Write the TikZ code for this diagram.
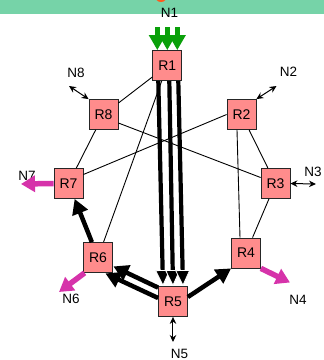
\documentclass[tikz,border=0pt]{standalone}
\usepackage{fontspec}
\setmainfont{Liberation Sans}
\usetikzlibrary{arrows.meta,calc}
\definecolor{band}{HTML}{76D3A8}
\definecolor{boxpink}{HTML}{FF8C8C}
\definecolor{flowgreen}{HTML}{0AA00A}
\definecolor{flowmag}{HTML}{D633AA}
\definecolor{dotorange}{HTML}{FF5A1E}
\begin{document}
\begin{tikzpicture}[x=1pt,y=-1pt,
  rbox/.style={draw=black!85, fill=boxpink, minimum width=29pt, minimum height=30pt,
    inner sep=0pt, line width=0.8pt, font=\fontsize{14}{16}\selectfont},
  lbl/.style={inner sep=0pt, font=\fontsize{13.5}{15}\selectfont},
  thinline/.style={line width=0.9pt},
  thinboth/.style={line width=1pt, {Stealth[length=7pt,width=6.5pt]}-{Stealth[length=7pt,width=6.5pt]}},
  thickarrow/.style={line width=4.5pt, -{Triangle[width=16pt,length=15pt]}},
  triarrow/.style={line width=4.2pt, -{Triangle[width=15pt,length=16pt,fill=black,color=white,line width=0.8pt]}},
  greenarrow/.style={flowgreen, line width=5pt, -{Triangle[width=16pt,length=15pt]}},
  magarrow/.style={flowmag, line width=5.5pt, -{Triangle[width=16pt,length=14pt]}}]
\useasboundingbox (0,0) rectangle (324,360);
% top band
\fill[band] (0,0) rectangle (324,13.5);
\begin{scope}
  \clip (0,0) rectangle (324,13.5);
  \fill[dotorange] (161,-4) circle[radius=6pt];
\end{scope}
% routers
\node[rbox] (R1) at (167.3,65.5) {R1};
\node[rbox] (R2) at (241.5,114.5) {R2};
\node[rbox] (R3) at (275.5,183.5) {R3};
\node[rbox] (R4) at (246,253) {R4};
\node[rbox] (R5) at (173,301.5) {R5};
\node[rbox] (R6) at (98,257.5) {R6};
\node[rbox] (R7) at (68.5,183.5) {R7};
\node[rbox] (R8) at (103.5,114.5) {R8};
% labels
\node[lbl] (N1) at (169.5,13) {N1};
\node[lbl] (N2) at (288.5,72) {N2};
\node[lbl] (N3) at (313,172) {N3};
\node[lbl] (N4) at (298,300) {N4};
\node[lbl] (N5) at (179.5,354) {N5};
\node[lbl] (N6) at (71,299) {N6};
\node[lbl] (N7) at (27,176) {N7};
\node[lbl] (N8) at (76,73) {N8};
% free ends
\coordinate (e8) at (69,86);
\coordinate (e2) at (276.5,86);
\coordinate (e3) at (316,184);
\coordinate (e5) at (173,342);
\coordinate (m7) at (21,184);
\coordinate (m6) at (59,292);
\coordinate (m4) at (290,282.5);
% thin links
\draw[thinline] (R1) -- (R8);
\draw[thinline] (R1) -- (R6);
\draw[thinline] (R8) -- (R7);
\draw[thinline] ($(R8.east)+(0,8.5)$) -- ($(R3.west)+(0,-6)$);
\draw[thinline] ($(R7.east)+(0,-9)$) -- (R2.west);
\draw[thinline] (R2) -- (R3);
\draw[thinline] ($(R2.south)+(-4.5,0)$) -- ($(R4.north)+(-6,0)$);
\draw[thinline] (R3) -- (R4);
% thin double arrows
\draw[thinboth] (R8.north west) -- (e8);
\draw[thinboth] (R2.north east) -- (e2);
\draw[thinboth] (R3.east) -- (e3);
\draw[thinboth] (R5.south) -- (e5);
% green inflow
\foreach \dx in {-10,0,10}{
  \draw[greenarrow] ($(R1.north)+(\dx,-23)$) -- ($(R1.north)+(\dx,0)$);
}
% thick flows
\draw[triarrow] ($(R1.south)+(-9,0)$) -- ($(R5.north)+(-10,0)$);
\draw[triarrow] ($(R1.south)+(2,0)$) -- ($(R5.north)+(0,0)$);
\draw[triarrow] ($(R1.south)+(11,0)$) -- ($(R5.north)+(10,0)$);
\draw[thickarrow] ($(R5.north west)+(0,1.5)$) -- ($(R6.south east)+(0.5,-6.5)$);
\draw[thickarrow] ($(R5.west)+(0,-3.5)$) -- ($(R6.south east)+(-7.5,0.5)$);
\draw[thickarrow] (R6) -- (R7);
\draw[thickarrow] ($(R5.east)+(0,-4.5)$) -- (R4.south west);
% magenta outflows
\draw[magarrow] (R7.west) -- (m7);
\draw[magarrow] ($(R6.south west)+(1.5,0)$) -- (m6);
\draw[magarrow] (R4.south east) -- (m4);
\end{tikzpicture}
\end{document}
